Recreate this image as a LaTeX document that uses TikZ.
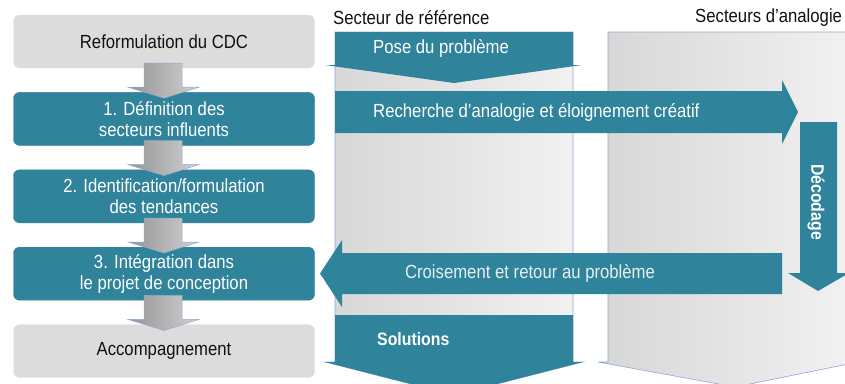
\documentclass[tikz,border=0pt]{standalone}
\usepackage{fontspec}
\setmainfont{Liberation Sans}[FakeStretch=0.88]
\usepackage{xcolor}
\definecolor{Teal}{HTML}{2F839B}
\definecolor{Pale}{HTML}{DCDCDC}
\definecolor{PaleEdge}{HTML}{E8E8E8}
\definecolor{Edge}{HTML}{8EA8D8}
\definecolor{Ink}{HTML}{111111}
\usetikzlibrary{positioning,calc}
\tikzset{
  box/.style={fill=Pale,draw=PaleEdge,rounded corners=6pt,minimum height=53pt,
    minimum width=301pt,align=center,text=Ink,font=\fontsize{19}{21}\selectfont,inner sep=2pt},
  tealbox/.style={box,fill=Teal,draw=Teal,text=white},
  panel/.style={left color=black!16,right color=black!5,draw=Edge,line width=.6pt},
  band/.style={fill=Teal},
  downarr/.style={left color=black!42,right color=black!18,draw=Edge,line width=.5pt},
  sectitle/.style={font=\fontsize{19}{21}\selectfont,text=Ink,inner sep=0pt},
  bandtext/.style={font=\fontsize{19}{21}\selectfont,text=white,inner sep=0pt}
}
\begin{document}
\begin{tikzpicture}[x=1pt,y=-1pt,node distance=24pt]
\useasboundingbox (0,0) rectangle (845,383);
\clip (0,0) rectangle (845,383);
% sectors
\draw[panel] (335,32) -- (573,32) -- (573,362) -- (583,362) -- (454,395) -- (325,362) -- (335,362) -- cycle;
\draw[panel] (608,32) -- (848,32) -- (848,362) -- (858,362) -- (735,387) -- (598,362) -- (608,362) -- cycle;
\node[sectitle,anchor=west] (ref) at (333,18) {Secteur de référence};
\node[sectitle,anchor=west] (ana) at (695,18) {Secteurs d’analogie};
% bands and block arrows
\fill[band] (335,32) -- (573,32) -- (573,65) -- (582,65) -- (454,83) -- (325,65) -- (335,65) -- cycle;
\fill[band] (335,315) -- (573,315) -- (573,362) -- (583,362) -- (454,395) -- (325,362) -- (335,362) -- cycle;
\fill[band] (335,91) -- (782,91) -- (782,80) -- (798,112) -- (782,144) -- (782,133) -- (335,133) -- cycle;
\fill[band] (800,122) -- (837,122) -- (837,273) -- (849,273) -- (818,291) -- (788,273) -- (800,273) -- cycle;
\fill[band] (782,253) -- (342,253) -- (342,240) -- (320,273.5) -- (342,307) -- (342,294) -- (782,294) -- cycle;
\node[bandtext,anchor=west] (pose) at (373,48) {Pose du problème};
\node[bandtext,anchor=west] (rech) at (373,112) {Recherche d’analogie et éloignement créatif};
\node[bandtext,rotate=-90,font=\fontsize{18}{21}\selectfont\bfseries] (deco) at (816,202) {Décodage};
\node[bandtext,text=white!88!Teal] (crois) at (530,273) {Croisement et retour au problème};
\node[bandtext,anchor=west,font=\fontsize{18}{21}\selectfont\bfseries] (sol) at (377,339) {Solutions};
% steps
\node[box] (cdc) at (164,41.5) {Reformulation du CDC};
\node[tealbox,below=of cdc] (d1) {1. Définition des\\secteurs influents};
\node[tealbox,below=of d1] (d2) {2. Identification/formulation\\des tendances};
\node[tealbox,below=of d2] (d3) {3. Intégration dans\\le projet de conception};
\node[box,below=of d3] (acc) {Accompagnement};
\foreach \a/\b in {cdc/d1,d1/d2,d2/d3,d3/acc}
  \draw[downarr] ($(\a.south)+(-20,-5)$) -- ($(\a.south)+(18,-5)$) -- ($(\b.north)+(18,-5)$)
    -- ($(\b.north)+(35,-5)$) -- ($(\b.north)+(0,6)$) -- ($(\b.north)+(-36,-5)$)
    -- ($(\b.north)+(-20,-5)$) -- cycle;
\end{tikzpicture}
\end{document}
